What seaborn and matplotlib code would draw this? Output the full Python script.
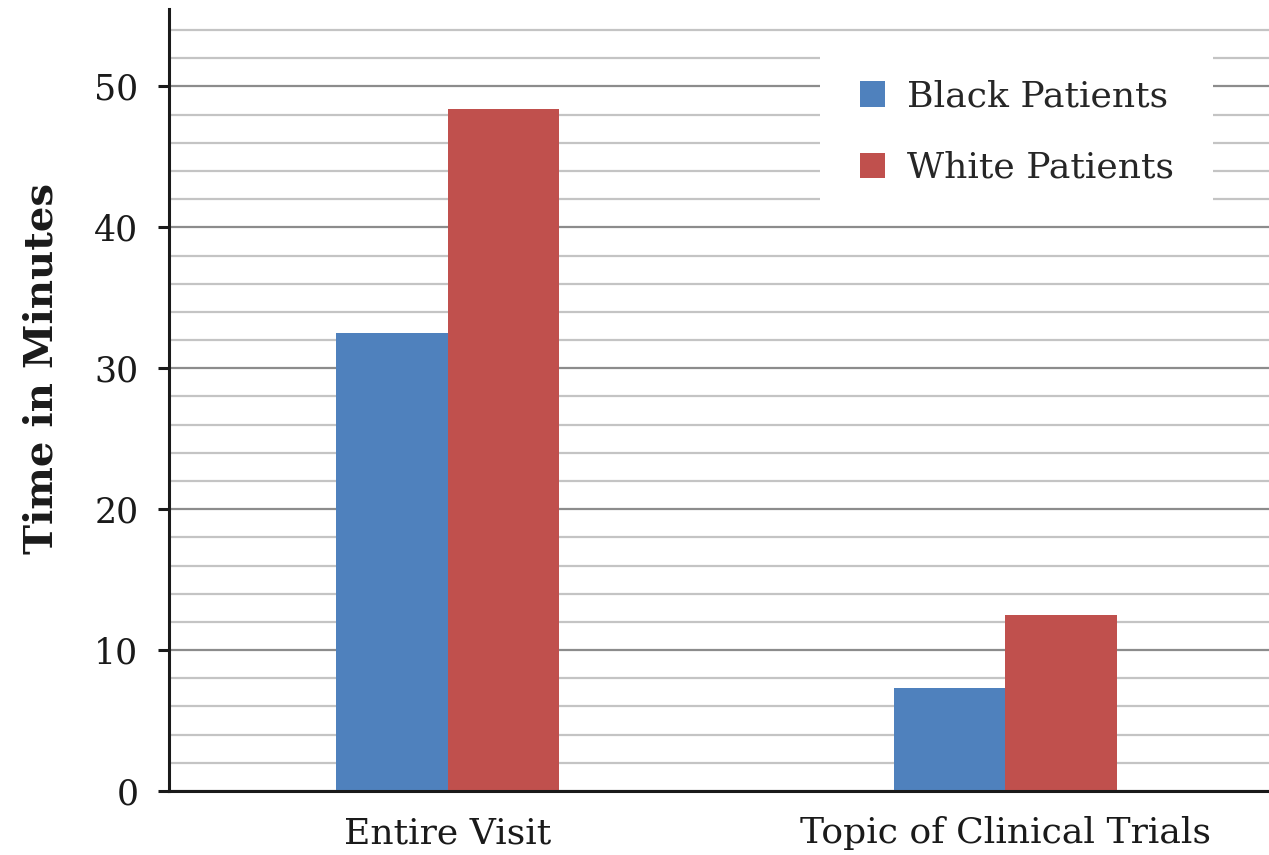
import matplotlib
matplotlib.use("Agg")
import matplotlib.pyplot as plt
from matplotlib.ticker import MultipleLocator
import seaborn as sns
import pandas as pd

categories = ["Entire Visit", "Topic of Clinical Trials"]
groups = ["Black Patients", "White Patients"]
black_minutes = [32.5, 7.3]
white_minutes = [48.4, 12.5]
colors = ["#4F81BD", "#C0504D"]

df = pd.DataFrame({
    "category": categories * 2,
    "group": [groups[0]] * 2 + [groups[1]] * 2,
    "minutes": black_minutes + white_minutes,
})

sns.set_theme(style="white")
plt.rcParams["font.family"] = ["DejaVu Serif", "Liberation Serif"]

fig = plt.figure(figsize=(12.69, 8.55), dpi=100)
ax = fig.add_axes([169 / 1269, 1 - 791 / 855, (1284 - 169) / 1269, (791 - 9) / 855])

sns.barplot(data=df, x="category", y="minutes", hue="group", order=categories,
            hue_order=groups, palette=colors, width=0.4, saturation=1,
            edgecolor="none", linewidth=0, ax=ax)

ax.set_xlim(-0.5, 1.5)
ax.set_ylim(0, 55.5)
ax.yaxis.set_major_locator(MultipleLocator(10))
ax.yaxis.set_minor_locator(MultipleLocator(2))
ax.set_axisbelow(True)
ax.yaxis.grid(True, which="major", color="#8c8c8c", linewidth=1.6)
ax.yaxis.grid(True, which="minor", color="#c4c4c4", linewidth=1.6)
ax.xaxis.grid(False)

for side in ["top", "right"]:
    ax.spines[side].set_visible(False)
for side in ["left", "bottom"]:
    ax.spines[side].set_color("#1a1a1a")
    ax.spines[side].set_linewidth(2.2)

ax.tick_params(axis="y", which="major", left=True, length=8, width=2.2,
               color="#1a1a1a", labelsize=25, pad=14)
ax.tick_params(axis="y", which="minor", left=False)
ax.tick_params(axis="x", bottom=False, labelsize=26, pad=12)
for lab in ax.get_xticklabels() + ax.get_yticklabels():
    lab.set_color("#1a1a1a")

ax.set_xlabel("")
ax.set_ylabel("Time in Minutes", fontsize=29, fontweight="bold", color="#1a1a1a",
              labelpad=24, y=0.54)

handles, labels = ax.get_legend_handles_labels()
ax.legend(handles, labels, loc="upper left", bbox_to_anchor=(820 / 1269, 1 - 40 / 855),
          bbox_transform=fig.transFigure, frameon=True, facecolor="white",
          edgecolor="none", framealpha=1, fancybox=False, fontsize=26,
          handlelength=0.7, handleheight=0.7, handletextpad=0.6,
          labelspacing=1.03, borderpad=1.1, borderaxespad=0)

fig.savefig("out.png", dpi=100)
